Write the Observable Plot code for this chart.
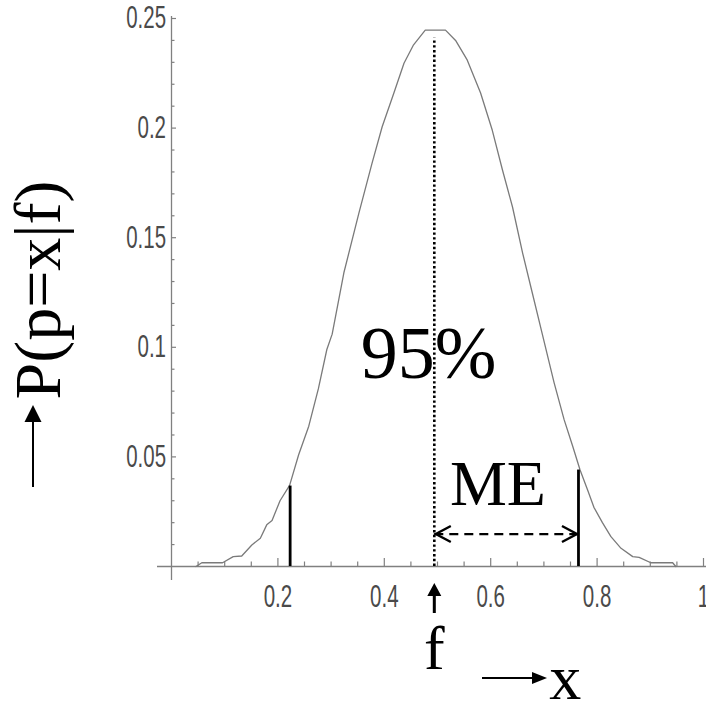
<!DOCTYPE html>
<html><head><meta charset="utf-8">
<script src="https://cdn.jsdelivr.net/npm/d3@7"></script>
<script src="https://cdn.jsdelivr.net/npm/@observablehq/plot@0.6"></script>
<style>html,body{margin:0;padding:0;background:#fff}</style>
</head><body><div id="chart"></div>
<script>
// Curve: probability density
const xs = [0.046,0.057,0.096,0.116,0.132,0.151,0.167,0.179,0.189,0.204,0.222,0.239,0.258,0.276,0.292,0.302,0.324,0.352,0.377,0.396,0.418,0.437,0.455,0.477,0.515,0.534,0.556,0.581,0.603,0.622,0.641,0.660,0.678,0.697,0.719,0.738,0.754,0.768,0.782,0.794,0.810,0.826,0.845,0.867,0.879,0.901,0.942,0.948];
const ps = [0,0.0017,0.0017,0.0045,0.0048,0.0098,0.0129,0.019,0.021,0.030,0.037,0.051,0.064,0.081,0.099,0.106,0.134,0.161,0.184,0.2006,0.216,0.2296,0.238,0.2447,0.2447,0.240,0.231,0.216,0.199,0.181,0.164,0.143,0.125,0.106,0.084,0.067,0.055,0.044,0.035,0.027,0.020,0.0136,0.0083,0.0045,0.0042,0.0017,0.0017,0];

// Ticks
const xTicks = [0.2,0.4,0.6,0.8,1];
const xTickLabels = ["0.2","0.4","0.6","0.8","1"];
const xMinor = [0.05,0.1,0.15,0.25,0.3,0.35,0.45,0.5,0.55,0.65,0.7,0.75,0.85,0.9,0.95];
const yTicks = [0.05,0.1,0.15,0.2,0.25];
const yTickLabels = ["0.05","0.1","0.15","0.2","0.25"];
const yMinor = [0.01,0.02,0.03,0.04,0.06,0.07,0.08,0.09,0.11,0.12,0.13,0.14,0.16,0.17,0.18,0.19,0.21,0.22,0.23,0.24];

// Annotations
const fValue = [0.494];
const fLineTop = [0.241];
const meBounds = [0.223, 0.765];
const meBoundTops = [0.0367, 0.044];
const meArrowY = [0.0148];
const pctText = ["95%"];
const pctX = [0.483];
const pctY = [0.086];
const meText = ["ME"];
const meTextX = [0.6136];
const meTextY = [0.0281];
const yLabel = ["P(p=x|f)"];

const W = 706, H = 702;
const mL = 171, mR = 3, mT = 18, mB = 136;
const frameW = W - mL - mR, frameH = H - mT - mB;

const upArrow = (w, h, sw, len) => ({draw(ctx) {
  ctx.moveTo(0, 0); ctx.lineTo(w/2, h); ctx.lineTo(sw/2, h); ctx.lineTo(sw/2, len);
  ctx.lineTo(-sw/2, len); ctx.lineTo(-sw/2, h); ctx.lineTo(-w/2, h); ctx.closePath();
}});
const rightArrow = (w, h, sw, len) => ({draw(ctx) {
  ctx.moveTo(0, 0); ctx.lineTo(-h, -w/2); ctx.lineTo(-h, -sw/2); ctx.lineTo(-len, -sw/2);
  ctx.lineTo(-len, sw/2); ctx.lineTo(-h, sw/2); ctx.lineTo(-h, w/2); ctx.closePath();
}});
const chevron = (dir, L, hw) => ({draw(ctx) {
  ctx.moveTo(dir*L, -hw); ctx.lineTo(0, 0); ctx.lineTo(dir*L, hw);
}});

const tickFont = "'Liberation Sans', Arial, sans-serif";
const serif = "'Liberation Serif', 'Times New Roman', serif";
const axisColor = "#808080";
const tickLabelColor = "#4a4a4a";

const chart = Plot.plot({
  width: W, height: H,
  marginLeft: mL, marginRight: mR, marginTop: mT, marginBottom: mB,
  x: {domain: [0, 1], axis: null},
  y: {domain: [0, 0.25], axis: null},
  style: {background: "white", overflow: "visible"},
  marks: [
    // axis lines
    Plot.ruleY([0], {stroke: axisColor, strokeWidth: 1.3, insetLeft: -14, insetRight: -3}),
    Plot.ruleX([0], {stroke: axisColor, strokeWidth: 1.3, insetTop: -2, insetBottom: -14}),
    // ticks
    Plot.tickX(xTicks, {x: d => d, stroke: axisColor, strokeWidth: 1.2, insetTop: frameH - 8}),
    Plot.tickX(xMinor, {x: d => d, stroke: axisColor, strokeWidth: 1.2, insetTop: frameH - 4.5}),
    Plot.tickY(yTicks, {y: d => d, stroke: axisColor, strokeWidth: 1.2, insetRight: frameW - 5}),
    Plot.tickY(yMinor, {y: d => d, stroke: axisColor, strokeWidth: 1.2, insetRight: frameW - 3.5}),
    // tick labels
    Plot.text(xTicks, {x: d => d, y: 0, dy: 18, text: (d, i) => xTickLabels[i], lineAnchor: "top", textAnchor: "middle", fontSize: 31, fontFamily: tickFont, fill: tickLabelColor}),
    Plot.text(yTicks, {x: 0, y: d => d, dx: -5.5, text: (d, i) => yTickLabels[i], lineAnchor: "middle", textAnchor: "end", fontSize: 31, fontFamily: tickFont, fill: tickLabelColor}),
    // curve
    Plot.line(ps, {x: xs, y: ps, stroke: "#7a7a7a", strokeWidth: 1.3}),
    // dotted line at f
    Plot.ruleX(fValue, {x: d => d, y1: 0, y2: fLineTop, stroke: "black", strokeWidth: 2.6, strokeDasharray: "2.4,2.4"}),
    // ME bounds
    Plot.ruleX(meBounds, {x: d => d, y1: 0, y2: meBoundTops, stroke: "black", strokeWidth: 2.8}),
    // ME dashed arrow
    Plot.link(meArrowY, {x1: fValue[0], x2: meBounds[1], y1: d => d, y2: d => d, stroke: "black", strokeWidth: 2.2, strokeDasharray: "9,6", insetLeft: 2}),
    Plot.dot(meArrowY, {x: fValue[0], y: d => d, dx: 1.5, symbol: chevron(1, 15, 8), fill: "none", stroke: "black", strokeWidth: 2.4}),
    Plot.dot(meArrowY, {x: meBounds[1], y: d => d, dx: -1.5, symbol: chevron(-1, 15, 8), fill: "none", stroke: "black", strokeWidth: 2.4}),
    // labels
    Plot.text(pctText, {x: pctX, y: pctY, text: d => d, fontSize: 74, fontFamily: serif, textAnchor: "middle", lineAnchor: "bottom", fill: "black"}),
    Plot.text(meText, {x: meTextX, y: meTextY, text: d => d, fontSize: 64, fontFamily: serif, textAnchor: "middle", lineAnchor: "bottom", fill: "black"}),
    // f marker under axis
    Plot.dot(fValue, {x: d => d, y: 0, dy: 16.5, symbol: upArrow(14, 13, 3, 30), fill: "black", stroke: "none"}),
    Plot.text(fValue, {x: d => d, y: 0, dy: 102.5, text: () => "f", fontSize: 62, fontFamily: serif, textAnchor: "middle", lineAnchor: "bottom", fill: "black"}),
    // → x
    Plot.dot(fValue, {x: d => d, y: 0, dx: 112.7, dy: 111.5, symbol: rightArrow(12, 15, 2, 65), fill: "black", stroke: "none"}),
    Plot.text(fValue, {x: d => d, y: 0, dx: 131, dy: 132, text: () => "x", fontSize: 64, fontFamily: serif, textAnchor: "middle", lineAnchor: "bottom", fill: "black"}),
    // y label with arrow
    Plot.text(yLabel, {frameAnchor: "left", dx: -111.5, dy: -2.5, rotate: -90, text: d => d, fontSize: 66, fontFamily: serif, textAnchor: "middle", lineAnchor: "bottom", fill: "black"}),
    Plot.dot(yLabel, {frameAnchor: "left", dx: -138.5, dy: 112.5, symbol: upArrow(17, 17, 2, 82), fill: "black", stroke: "none"})
  ]
});
document.getElementById("chart").appendChild(chart);
// condense the tick labels horizontally, like the narrow font of the original
d3.select(chart).selectAll("g").filter(function() {
  return this.getAttribute("font-family") === tickFont;
}).selectAll("text").each(function() {
  const w = this.getComputedTextLength();
  if (w > 0) {
    this.setAttribute("textLength", (w * 0.66).toFixed(1));
    this.setAttribute("lengthAdjust", "spacingAndGlyphs");
  }
});
</script>
</body></html>
